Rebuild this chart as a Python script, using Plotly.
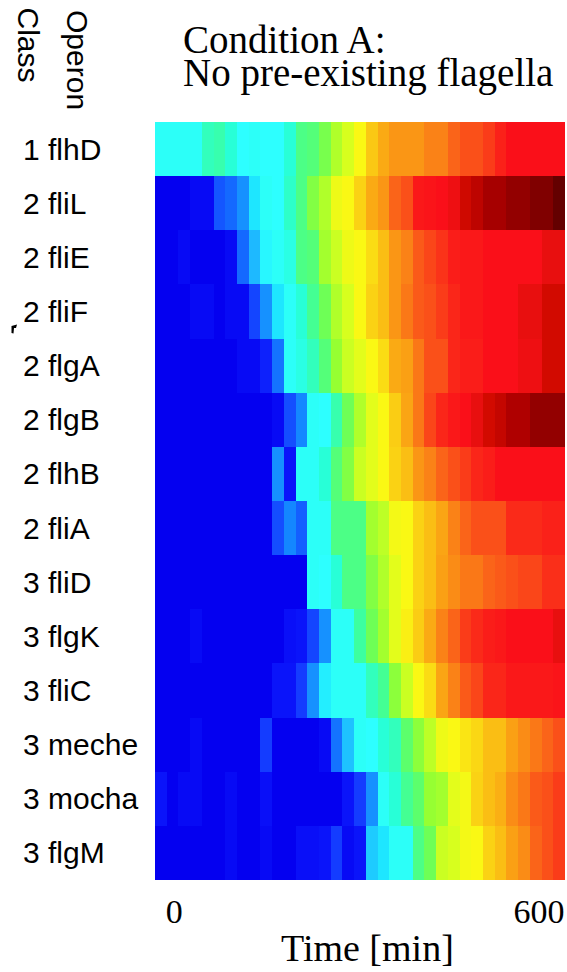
import numpy as np
import plotly.graph_objects as go

# ---- data -----------------------------------------------------------------
classes = [1, 2, 2, 2, 2, 2, 2, 2, 3, 3, 3, 3, 3, 3]
operons = ["flhD", "fliL", "fliE", "fliF", "flgA", "flgB", "flhB",
           "fliA", "fliD", "flgK", "fliC", "meche", "mocha", "flgM"]

# time bins (minutes, bin centres)
n_bins = 35
bin_minutes = 19.26
first_bin_centre = -21.9
times = first_bin_centre + bin_minutes * np.arange(n_bins)

# normalised promoter activity per operon, one value per time bin
expr_flhD = [0.385, 0.385, 0.385, 0.385, 0.43, 0.44, 0.41, 0.38, 0.385, 0.38, 0.38, 0.41,
             0.47, 0.48, 0.52, 0.57, 0.6, 0.63,
             0.68, 0.71, 0.73, 0.73, 0.73, 0.75, 0.75, 0.78, 0.8, 0.8, 0.82, 0.85,
             0.87, 0.87, 0.87, 0.87, 0.87]
expr_fliL = [0.12, 0.12, 0.12, 0.13, 0.13, 0.2, 0.22, 0.26, 0.35, 0.385, 0.38, 0.42,
             0.47, 0.53, 0.57, 0.62, 0.63, 0.67,
             0.71, 0.73, 0.78, 0.8, 0.86, 0.865, 0.87, 0.88, 0.905, 0.93, 0.96, 0.96,
             0.98, 0.98, 1.0, 1.0, 1.05]
expr_fliE = [0.12, 0.12, 0.13, 0.12, 0.12, 0.12, 0.13, 0.22, 0.3, 0.37, 0.385, 0.4,
             0.47, 0.48, 0.56, 0.59, 0.62, 0.63,
             0.66, 0.69, 0.73, 0.75, 0.79, 0.81, 0.83, 0.855, 0.86, 0.86, 0.87, 0.87,
             0.87, 0.87, 0.87, 0.885, 0.885]
expr_fliF = [0.12, 0.12, 0.12, 0.13, 0.13, 0.12, 0.13, 0.13, 0.18, 0.26, 0.35, 0.385,
             0.41, 0.46, 0.51, 0.57, 0.6, 0.63,
             0.67, 0.69, 0.73, 0.76, 0.79, 0.8, 0.82, 0.845, 0.86, 0.86, 0.87, 0.87,
             0.87, 0.885, 0.885, 0.9, 0.9]
expr_flgA = [0.12, 0.12, 0.12, 0.12, 0.12, 0.12, 0.12, 0.13, 0.13, 0.15, 0.23, 0.385,
             0.4, 0.43, 0.48, 0.55, 0.59, 0.61,
             0.63, 0.66, 0.71, 0.72, 0.76, 0.8, 0.8, 0.845, 0.855, 0.855, 0.87, 0.87,
             0.87, 0.88, 0.88, 0.9, 0.9]
expr_flgB = [0.12, 0.12, 0.12, 0.12, 0.12, 0.12, 0.12, 0.12, 0.12, 0.12, 0.13, 0.19,
             0.25, 0.385, 0.38, 0.44, 0.51, 0.57,
             0.61, 0.63, 0.675, 0.715, 0.76, 0.81, 0.845, 0.86, 0.87, 0.885, 0.9, 0.92,
             0.95, 0.95, 0.98, 0.98, 0.98]
expr_flhB = [0.12, 0.12, 0.12, 0.12, 0.12, 0.12, 0.12, 0.12, 0.12, 0.12, 0.26, 0.14,
             0.385, 0.385, 0.41, 0.48, 0.53, 0.59,
             0.61, 0.63, 0.67, 0.69, 0.73, 0.75, 0.78, 0.8, 0.82, 0.845, 0.855, 0.87,
             0.87, 0.87, 0.87, 0.87, 0.87]
expr_fliA = [0.12, 0.12, 0.12, 0.12, 0.12, 0.12, 0.12, 0.12, 0.12, 0.12, 0.19, 0.25,
             0.21, 0.385, 0.385, 0.47, 0.47, 0.47,
             0.56, 0.58, 0.625, 0.63, 0.67, 0.69, 0.715, 0.75, 0.78, 0.8, 0.8, 0.8,
             0.84, 0.84, 0.84, 0.85, 0.85]
expr_fliD = [0.12, 0.12, 0.12, 0.12, 0.12, 0.12, 0.12, 0.12, 0.12, 0.12, 0.12, 0.12,
             0.12, 0.385, 0.38, 0.41, 0.47, 0.47,
             0.53, 0.57, 0.61, 0.63, 0.67, 0.69, 0.72, 0.74, 0.76, 0.76, 0.78, 0.79,
             0.8, 0.81, 0.81, 0.835, 0.835]
expr_flgK = [0.12, 0.12, 0.12, 0.13, 0.12, 0.12, 0.12, 0.12, 0.12, 0.12, 0.12, 0.135,
             0.14, 0.18, 0.26, 0.385, 0.385, 0.45,
             0.51, 0.56, 0.61, 0.64, 0.675, 0.71, 0.75, 0.78, 0.82, 0.84, 0.855, 0.86,
             0.87, 0.87, 0.87, 0.87, 0.885]
expr_fliC = [0.12, 0.12, 0.12, 0.12, 0.12, 0.12, 0.12, 0.12, 0.12, 0.12, 0.14, 0.14,
             0.17, 0.26, 0.36, 0.385, 0.385, 0.385,
             0.43, 0.46, 0.54, 0.59, 0.63, 0.66, 0.715, 0.75, 0.79, 0.81, 0.845, 0.845,
             0.86, 0.86, 0.86, 0.86, 0.865]
expr_meche = [0.12, 0.12, 0.12, 0.13, 0.12, 0.12, 0.12, 0.12, 0.12, 0.17, 0.12, 0.12,
              0.12, 0.12, 0.13, 0.23, 0.31, 0.385,
              0.38, 0.41, 0.43, 0.49, 0.54, 0.58, 0.62, 0.63, 0.65, 0.665, 0.69, 0.69,
              0.72, 0.74, 0.76, 0.78, 0.8]
expr_mocha = [0.14, 0.12, 0.13, 0.13, 0.12, 0.12, 0.13, 0.12, 0.12, 0.135, 0.12, 0.12,
              0.12, 0.12, 0.12, 0.12, 0.14, 0.17,
              0.26, 0.385, 0.41, 0.46, 0.49, 0.55, 0.56, 0.61, 0.625, 0.67, 0.69, 0.705,
              0.74, 0.76, 0.79, 0.8, 0.82]
expr_flgM = [0.12, 0.12, 0.12, 0.12, 0.12, 0.12, 0.13, 0.12, 0.12, 0.13, 0.12, 0.12,
             0.135, 0.135, 0.14, 0.17, 0.13, 0.14,
             0.32, 0.35, 0.385, 0.385, 0.47, 0.51, 0.59, 0.6, 0.625, 0.63, 0.67, 0.69,
             0.72, 0.74, 0.78, 0.8, 0.82]

expression = [expr_flhD, expr_fliL, expr_fliE, expr_fliF, expr_flgA, expr_flgB,
              expr_flhB, expr_fliA, expr_fliD, expr_flgK, expr_fliC, expr_meche,
              expr_mocha, expr_flgM]

x_ticks = [0, 600]

# ---- style ----------------------------------------------------------------
Z_MIN, Z_MAX = 0.12, 1.05
jet_stops = [
    (0.12, (4, 0, 240)), (0.14, (10, 20, 250)), (0.17, (20, 60, 255)),
    (0.21, (20, 95, 255)), (0.25, (20, 135, 255)), (0.30, (30, 185, 255)),
    (0.35, (30, 230, 255)), (0.38, (45, 255, 255)), (0.41, (40, 255, 215)),
    (0.45, (60, 255, 160)), (0.50, (100, 255, 95)), (0.55, (150, 255, 50)),
    (0.60, (215, 255, 30)), (0.63, (250, 248, 20)), (0.67, (250, 210, 20)),
    (0.72, (250, 160, 20)), (0.78, (250, 100, 25)), (0.82, (250, 60, 25)),
    (0.87, (250, 15, 25)), (0.885, (232, 15, 15)), (0.90, (210, 10, 0)),
    (0.95, (175, 0, 0)), (1.00, (128, 0, 0)), (1.05, (100, 0, 0)),
]
colorscale = [[(v - Z_MIN) / (Z_MAX - Z_MIN), "rgb(%d,%d,%d)" % c] for v, c in jet_stops]

W, H = 567, 972
M_L, M_R, M_T, M_B = 155, 2, 122, 92
plot_w = W - M_L - M_R
plot_h = H - M_T - M_B


def paper_x(px):
    return (px - M_L) / plot_w


def paper_y(py):
    return (H - M_B - py) / plot_h


SANS = "Liberation Sans, Arial, sans-serif"
SERIF = "Liberation Serif, Times New Roman, serif"

rows = list(range(len(operons)))
fig = go.Figure(go.Heatmap(
    z=expression, x=times, y=rows,
    colorscale=colorscale, zmin=Z_MIN, zmax=Z_MAX,
    showscale=False, hoverinfo="skip",
))

edge_lo = times[0] - bin_minutes / 2
edge_hi = times[-1] + bin_minutes / 2

fig.update_layout(
    width=W, height=H,
    margin=dict(l=M_L, r=M_R, t=M_T, b=M_B, pad=0),
    paper_bgcolor="white", plot_bgcolor="white",
    xaxis=dict(range=[edge_lo, edge_hi], tickvals=x_ticks,
               ticktext=[str(t) for t in x_ticks],
               ticks="outside", ticklen=1, tickcolor="rgba(0,0,0,0)",
               tickfont=dict(family=SERIF, size=34, color="black"),
               showgrid=False, zeroline=False, showline=False),
    yaxis=dict(range=[len(operons) - 0.5, -0.5], showticklabels=False,
               ticks="", showgrid=False, zeroline=False, showline=False),
)

annotations = []
for r, (c, op) in enumerate(zip(classes, operons)):
    annotations.append(dict(
        x=paper_x(21), y=r, xref="paper", yref="y",
        text=f"{c} {op}", showarrow=False, xanchor="left", yanchor="middle",
        font=dict(family=SANS, size=30, color="black"),
    ))

annotations += [
    dict(x=paper_x(28), y=paper_y(5), xref="paper", yref="paper", text="Class",
         textangle=90, showarrow=False, xanchor="center", yanchor="top",
         font=dict(family=SANS, size=30, color="black")),
    dict(x=paper_x(77), y=paper_y(8), xref="paper", yref="paper", text="Operon",
         textangle=90, showarrow=False, xanchor="center", yanchor="top",
         font=dict(family=SANS, size=30, color="black")),
    dict(x=paper_x(181), y=paper_y(40), xref="paper", yref="paper", text="Condition A:",
         showarrow=False, xanchor="left", yanchor="middle",
         font=dict(family=SERIF, size=39, color="black")),
    dict(x=paper_x(181), y=paper_y(73), xref="paper", yref="paper",
         text="No pre-existing flagella",
         showarrow=False, xanchor="left", yanchor="middle",
         font=dict(family=SERIF, size=39, color="black")),
    dict(x=paper_x(367), y=paper_y(948), xref="paper", yref="paper", text="Time [min]",
         showarrow=False, xanchor="center", yanchor="middle",
         font=dict(family=SERIF, size=38, color="black")),
]

# small stray ink mark beside the fliF label
fig.add_shape(type="path", xref="paper", yref="paper",
              path="M %f,%f L %f,%f L %f,%f L %f,%f L %f,%f L %f,%f Z" % (
                  paper_x(11.5), paper_y(326), paper_x(17), paper_y(324.5),
                  paper_x(16), paper_y(328), paper_x(14), paper_y(328),
                  paper_x(13.5), paper_y(333.5), paper_x(11.5), paper_y(333)),
              fillcolor="black", line=dict(width=0))

fig.update_layout(annotations=annotations)

fig.write_html("out.html")
